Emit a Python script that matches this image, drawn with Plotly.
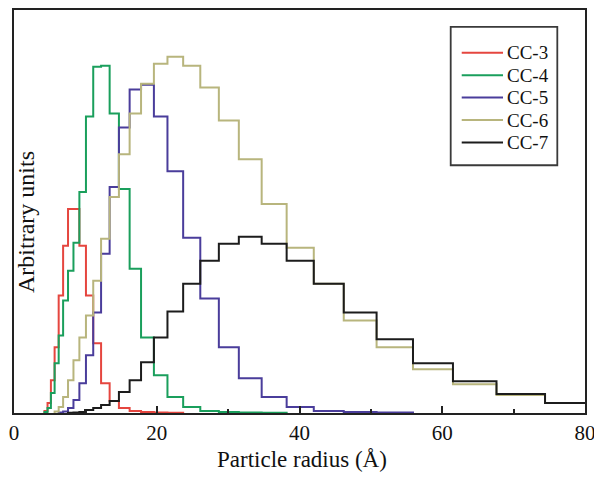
import plotly.graph_objects as go

# Bin edges (Å) of the particle-radius histogram
bin_edges = [3.89, 4.27, 4.70, 5.17, 5.69, 6.26, 6.88, 7.57, 8.33, 9.16, 10.08,
             11.1, 12.2, 13.4, 14.7, 16.2, 17.8, 19.6, 21.5, 23.7, 26.1, 28.7,
             31.5, 34.7, 38.2, 42.0, 46.2, 50.8, 55.9, 61.5, 67.6, 74.4, 81.8]

N = None
cc3 = [N, 2, 10, 33, 66, 118, 168, 205, 205, 168, 118, 70, 30, 12, 5, 2, 1, 0.5, 0.3,
       N, N, N, N, N, N, N, N, N, N, N, N, N]
cc4 = [N, 1, 5, 20, 50, 78, 113, 143, 171, 222, 298, 348, 349, 301, 225, 145, 76, 38, 16,
       6, 2, 1, 0.5, 0.3, N, N, N, N, N, N, N, N]
cc5 = [N, N, N, N, N, 0.5, 1.5, 5, 13, 30, 58, 101, 160, 227, 287, 325, 330, 298, 243,
       176, 115, 66, 35, 16, 6, 2, 1, 0.5, N, N, N, N]
cc6 = [N, N, N, N, 1.5, 6, 16, 33, 53, 76, 98, 133, 175, 217, 260, 301, 331, 351, 358,
       349, 327, 294, 255, 210, 166, 130, 93, 66, 44, 29, 18, 10]
cc7 = [N, N, N, N, N, N, N, 0.3, 0.5, 1, 3, 5, 8, 12, 21, 33, 51, 76, 102, 130, 153, 170,
       177, 170, 153, 130, 101, 74, 50, 32, 19, 10]

series_names = ["CC-3", "CC-4", "CC-5", "CC-6", "CC-7"]
series_values = [cc3, cc4, cc5, cc6, cc7]
series_colors = ["#e5463f", "#1a9f5c", "#4a3d9b", "#b8b57d", "#1c1c1c"]

x_ticks = [0, 20, 40, 60, 80]


def step_outline(edges, values):
    idx = [i for i, v in enumerate(values) if v is not None]
    i0, i1 = idx[0], idx[-1]
    vals = values[i0:i1 + 1]
    e = edges[i0:i1 + 2]
    xs = [e[0]] + e[:-1] + [e[-1]]
    ys = [0] + vals + [0]
    return xs, ys


fig = go.Figure()
for name, vals, col in zip(series_names, series_values, series_colors):
    xs, ys = step_outline(bin_edges, vals)
    fig.add_trace(go.Scatter(x=xs, y=ys, mode="lines", name=name, showlegend=False,
                             line=dict(color=col, width=2, shape="hv")))

serif = "Liberation Serif, Times New Roman, serif"

# Legend drawn as a framed box with sample lines and real text labels
shapes = [dict(type="rect", xref="paper", yref="paper", x0=0.7648, x1=0.9515,
               y0=0.6148, y1=0.958, line=dict(color="#3a3a3a", width=1.8),
               fillcolor="white", layer="above")]
annotations = []
leg_top, leg_step = 0.8938, 0.0556
for k, (name, col) in enumerate(zip(series_names, series_colors)):
    yy = leg_top - k * leg_step
    shapes.append(dict(type="line", xref="paper", yref="paper", x0=0.7841, x1=0.8564,
                       y0=yy, y1=yy, line=dict(color=col, width=2), layer="above"))
    annotations.append(dict(text=name, xref="paper", yref="paper", x=0.8596, y=yy,
                            xanchor="left", yanchor="middle", showarrow=False,
                            font=dict(family=serif, size=19, color="#111")))

annotations += [
    dict(text="Arbitrary units", xref="paper", yref="paper", x=0.021, y=0.474,
         xanchor="center", yanchor="middle", textangle=-90, showarrow=False,
         font=dict(family=serif, size=24, color="#111")),
    dict(text="Particle radius (Å)", xref="paper", yref="paper", x=0.505, y=-0.116,
         xanchor="center", yanchor="middle", showarrow=False,
         font=dict(family=serif, size=23, color="#111")),
]

fig.update_layout(
    width=594, height=471,
    margin=dict(l=6, r=17, t=0, b=66),
    paper_bgcolor="white", plot_bgcolor="white",
    font=dict(family=serif, color="#111", size=21),
    showlegend=False,
    xaxis=dict(range=[0, 80], tickvals=x_ticks, ticks="inside", ticklen=7,
               tickwidth=1.5, tickcolor="#222",
               minor=dict(ticks="inside", ticklen=4, dtick=10, tickwidth=1.5, tickcolor="#222"),
               showline=True, linecolor="#222", linewidth=2, mirror=True,
               showgrid=False, zeroline=False,
               tickfont=dict(family=serif, size=21, color="#111")),
    yaxis=dict(range=[0, 405], showticklabels=False, ticks="",
               showline=True, linecolor="#222", linewidth=2, mirror=True,
               showgrid=False, zeroline=False),
    shapes=shapes,
    annotations=annotations,
)

fig.write_html("out.html")
